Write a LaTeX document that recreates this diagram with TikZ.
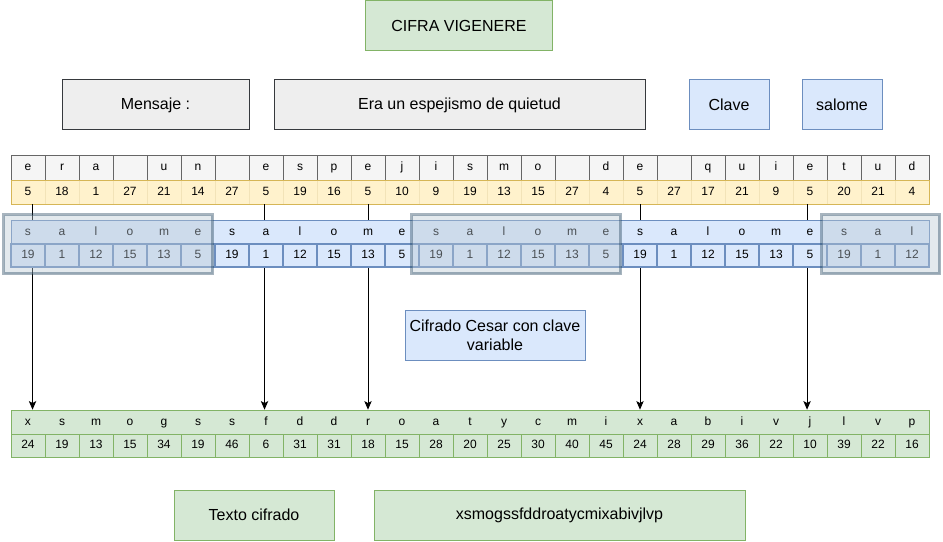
\documentclass[tikz,border=0pt]{standalone}
\usepackage{fontspec}
\setmainfont{Liberation Sans}
\usetikzlibrary{arrows.meta}
\definecolor{greyfill}{HTML}{F5F5F5}
\definecolor{greyline}{HTML}{666666}
\definecolor{boxfill}{HTML}{EEEEEE}
\definecolor{boxline}{HTML}{36393D}
\definecolor{yelfill}{HTML}{FFF2CC}
\definecolor{yelline}{HTML}{D6B656}
\definecolor{yelsep}{HTML}{F2E3B8}
\definecolor{bluefill}{HTML}{DAE8FC}
\definecolor{blueline}{HTML}{6C8EBF}
\definecolor{grnfill}{HTML}{D5E8D4}
\definecolor{grnline}{HTML}{82B366}
\definecolor{ovfill}{HTML}{BAC8D3}
\definecolor{ovline}{HTML}{23445D}
\begin{document}
\begin{tikzpicture}[x=0.75pt,y=-0.75pt,
  bigbox/.style={draw, inner sep=0pt, align=center, line width=0.75pt,
    font=\fontsize{12}{14.5}\selectfont, minimum height=37.5pt},
  cell/.style={inner sep=0pt, font=\fontsize{9}{11}\selectfont, minimum width=25.5pt,
    text height=6.6pt, text depth=1.9pt},
  rowbg/.style={inner sep=0pt, line width=0.75pt, minimum width=688.5pt},
  keymask/.style={fill=ovfill, draw=ovline, opacity=0.4, line width=2.25pt, inner sep=0pt},
  link/.style={draw=black, line width=0.75pt, -{Stealth[length=6.5pt,width=5.5pt,inset=1.5pt]}}
]
\useasboundingbox (0,0) rectangle (943,542);

% title and header boxes
\node[bigbox, fill=grnfill, draw=grnline, minimum width=140.25pt] (title) at (459,25.5) {CIFRA VIGENERE};
\node[bigbox, fill=boxfill, draw=boxline, minimum width=140.25pt] (mensaje) at (155.5,105) {Mensaje :};
\node[bigbox, fill=boxfill, draw=boxline, minimum width=278.25pt] (texto) at (459.5,105) {Era un espejismo de quietud};
\node[bigbox, fill=bluefill, draw=blueline, minimum width=60pt] (clave) at (729,105) {Clave};
\node[bigbox, fill=bluefill, draw=blueline, minimum width=60pt] (salome) at (842,105) {salome};

% message letters
\foreach \l [count=\i from 0] in {e,r,a,{},u,n,{},e,s,p,e,j,i,s,m,o,{},d,e,{},q,u,i,e,t,u,d}
  \node[cell, draw=greyline, fill=greyfill, line width=0.75pt, minimum height=18.75pt] (m\i) at ({28+34*\i},167.5) {\l};

% message numbers
\node[rowbg, draw=yelline, fill=yelfill, minimum height=18pt] (yrow) at (470,192) {};
\foreach \i in {1,...,26}
  \draw[yelsep, line width=0.75pt] ({11+34*\i},180.5) -- ({11+34*\i},203.5);
\foreach \l [count=\i from 0] in {5,18,1,27,21,14,27,5,19,16,5,10,9,19,13,15,27,4,5,27,17,21,9,5,20,21,4}
  \node[cell, minimum height=18pt] (n\i) at ({28+34*\i},192) {\l};

% cipher letters and numbers
\node[rowbg, draw=grnline, fill=grnfill, minimum height=18pt] (grow) at (470,422) {};
\foreach \l [count=\i from 0] in {x,s,m,o,g,s,s,f,d,d,r,o,a,t,y,c,m,i,x,a,b,i,v,j,l,v,p}
  \node[cell, minimum height=18pt] (g\i) at ({28+34*\i},422) {\l};
\foreach \l [count=\i from 0] in {24,19,13,15,34,19,46,6,31,31,18,15,28,20,25,30,40,45,24,28,29,36,22,10,39,22,16}
  \node[cell, draw=grnline, fill=grnfill, line width=0.75pt, minimum height=17.25pt] (h\i) at ({28+34*\i},445.5) {\l};

% connectors
\draw[link] ([xshift=3.4pt]n0.south) -- ([xshift=3.4pt]g0.north);
\draw[link] ([xshift=-1.1pt]n7.south) -- ([xshift=-1.1pt]g7.north);
\draw[link] (n10.south) -- (g10.north);
\draw[link] (n18.south) -- (g18.north);
\draw[link] ([xshift=-2.2pt]n23.south) -- ([xshift=-2.2pt]g23.north);

% key letters and numbers
\node[rowbg, draw=blueline, fill=bluefill, minimum height=18pt] (krow) at (470,232) {};
\foreach \l [count=\i from 0] in {s,a,l,o,m,e,s,a,l,o,m,e,s,a,l,o,m,e,s,a,l,o,m,e,s,a,l}
  \node[cell, minimum height=18pt] (k\i) at ({28+34*\i},232) {\l};
\foreach \l [count=\i from 0] in {19,1,12,15,13,5,19,1,12,15,13,5,19,1,12,15,13,5,19,1,12,15,13,5,19,1,12}
  \node[cell, draw=blueline, fill=bluefill, line width=1.5pt, minimum height=17.25pt] (q\i) at ({28+34*\i},255.5) {\l};

% translucent key masks
\node[keymask, minimum width=156.75pt, minimum height=44.25pt] (mask1) at (108,244) {};
\node[keymask, minimum width=156.75pt, minimum height=44.25pt] (mask2) at (516,244) {};
\node[keymask, minimum width=88.5pt, minimum height=44.25pt] (mask3) at (880.5,244) {};

% explanation
\node[bigbox, fill=bluefill, draw=blueline, minimum width=135pt] (cesar) at (495,335) {Cifrado Cesar con clave\\variable};

% result boxes
\node[bigbox, fill=grnfill, draw=grnline, minimum width=120pt] (cifrado) at (254,515) {Texto cifrado};
\node[bigbox, fill=grnfill, draw=grnline, minimum width=278.25pt] (resultado) at (559.5,515) {xsmogssfddroatycmixabivjlvp};
\end{tikzpicture}
\end{document}
